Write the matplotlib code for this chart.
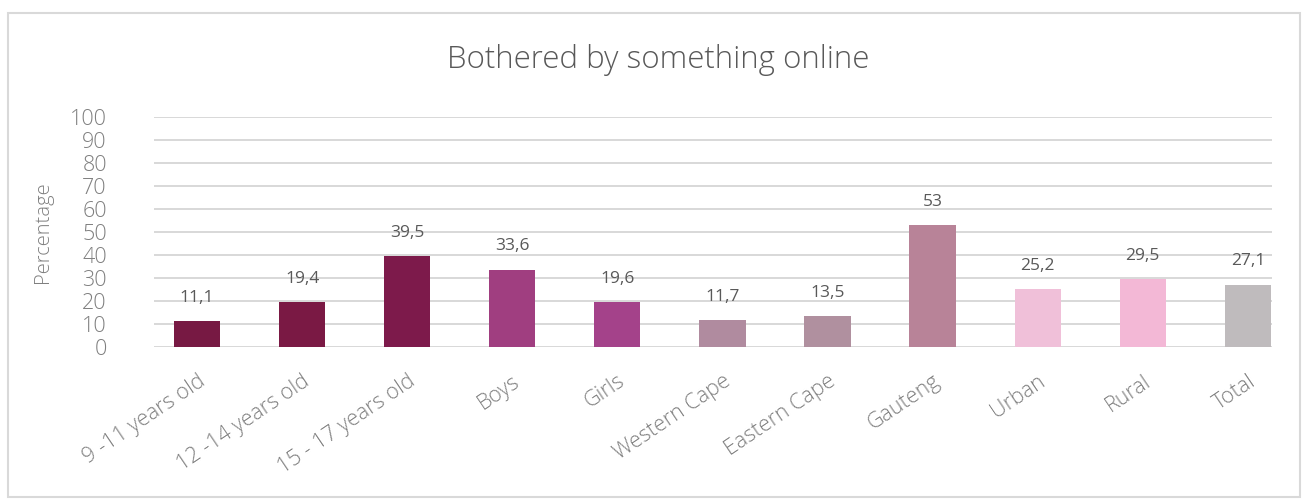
import matplotlib
matplotlib.use("Agg")
import matplotlib.pyplot as plt
from matplotlib.patches import Rectangle
from matplotlib.transforms import ScaledTranslation

categories = ["9 -11 years old", "12 -14 years old", "15 - 17 years old", "Boys", "Girls",
              "Western Cape", "Eastern Cape", "Gauteng", "Urban", "Rural", "Total"]
values = [11.1, 19.4, 39.5, 33.6, 19.6, 11.7, 13.5, 53, 25.2, 29.5, 27.1]
value_labels = ["11,1", "19,4", "39,5", "33,6", "19,6", "11,7", "13,5", "53", "25,2", "29,5", "27,1"]
bar_colors = ["#771943", "#7a1944", "#7d1a4b", "#a03e80", "#a4428a", "#b08b9f",
              "#b0909f", "#b88398", "#f0c0d9", "#f3b8d6", "#bfbbbd"]
y_ticks = list(range(0, 101, 10))

plt.rcParams["font.family"] = ["Open Sans", "DejaVu Sans"]
text_grey = "#595959"
axis_grey = "#7f7f7f"

W, H = 1307, 499
fig = plt.figure(figsize=(W / 100, H / 100), dpi=100)

# outer chart frame
fig.patches.append(Rectangle((8 / W, 2 / H), 1292 / W, 484 / H, transform=fig.transFigure,
                             fill=False, edgecolor="#d9d9d9", linewidth=1.5))

left, right = 154, 1272
top, bottom = 117, 347
ax = fig.add_axes([left / W, 1 - bottom / H, (right - left) / W, (bottom - top) / H])

x = list(range(len(categories)))
ax.bar(x, values, width=0.44, color=bar_colors, zorder=3)
for xi, v, lab in zip(x, values, value_labels):
    ax.annotate(lab, (xi, v), xytext=(0, 11), textcoords="offset points",
                ha="center", va="bottom", fontsize=12.5, color=text_grey)

ax.set_ylim(0, 100)
ax.set_xlim(-0.41, 10.23)
ax.set_yticks(y_ticks)
ax.set_yticklabels([str(t) for t in y_ticks], fontsize=15.5, color=axis_grey,
                   fontweight="light")
ax.yaxis.grid(True, color="#d6d6d6", linewidth=1.3, zorder=0)
ax.set_xticks(x)
ax.set_xticklabels(categories, rotation=34, ha="right", rotation_mode="anchor",
                   fontsize=15.5, color=axis_grey, fontweight="light")
shift = ScaledTranslation(27 / 100, 0, fig.dpi_scale_trans)
for lbl in ax.get_xticklabels():
    lbl.set_transform(lbl.get_transform() + shift)
ax.tick_params(axis="both", length=0)
ax.tick_params(axis="x", pad=17)
ax.tick_params(axis="y", pad=34)
for s in ax.spines.values():
    s.set_visible(False)
ax.set_ylabel("Percentage", fontsize=14.5, color=axis_grey, labelpad=12,
              fontweight="light")

fig.text(658 / W, 1 - 60 / H, "Bothered by something online", ha="center", va="center",
         fontsize=22.5, color=text_grey, fontweight="light")

fig.savefig("out.png", dpi=100, facecolor="white")
